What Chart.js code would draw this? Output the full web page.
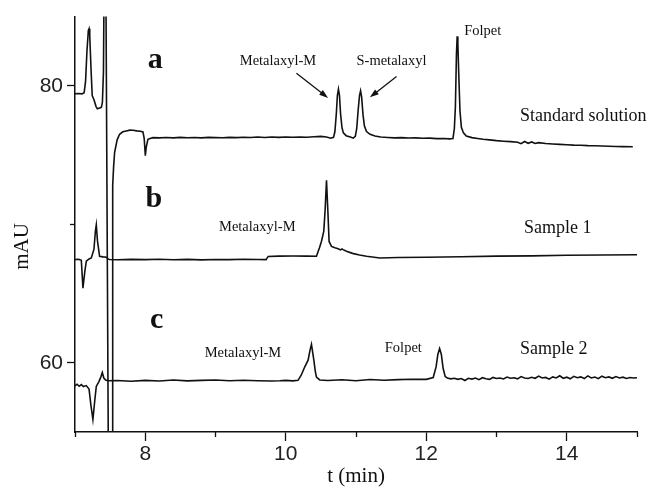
<!DOCTYPE html>
<html>
<head>
<meta charset="utf-8">
<script src="https://cdn.jsdelivr.net/npm/chart.js"></script>
<style>
  body { margin: 0; background: #fff; }
  #wrap { width: 650px; height: 489px; }
</style>
</head>
<body>
<div id="wrap"><canvas id="myChart" width="650" height="489"></canvas></div>
<script>
// trace a - standard solution (t in min, signal in mAU)
var timeA = [
  7.00, 7.05, 7.10, 7.13, 7.15, 7.17, 7.19, 7.20, 7.21, 7.23,
  7.245, 7.27, 7.30, 7.318, 7.35, 7.375, 7.39, 7.405, 7.415, 7.435,
  7.44, 7.475, 7.52, 7.529, 7.533, 7.54, 7.55, 7.564, 7.60, 7.635,
  7.68, 7.73, 7.78, 7.825, 7.88, 7.93, 7.967, 7.985, 8.001, 8.015,
  8.038, 8.07, 8.11, 8.2, 8.3, 8.4, 8.5, 8.6, 8.7, 8.8,
  8.9, 9.0, 9.1, 9.2, 9.3, 9.4, 9.5, 9.6, 9.7, 9.8,
  9.9, 10.0, 10.1, 10.2, 10.3, 10.4, 10.5, 10.58, 10.64, 10.68,
  10.70, 10.72, 10.735, 10.75, 10.765, 10.78, 10.80, 10.82, 10.86, 10.92,
  10.96, 10.99, 11.01, 11.03, 11.05, 11.065, 11.08, 11.10, 11.12, 11.15,
  11.2, 11.27, 11.35, 11.45, 11.55, 11.65, 11.75, 11.85, 11.95, 12.05,
  12.15, 12.25, 12.33, 12.38, 12.40, 12.415, 12.43, 12.44, 12.45, 12.465,
  12.48, 12.50, 12.53, 12.57, 12.65, 12.73, 12.81, 12.9, 13.0, 13.1,
  13.2, 13.3, 13.35, 13.4, 13.45, 13.5, 13.55, 13.6, 13.7, 13.8,
  13.9, 14.0, 14.1, 14.2, 14.3, 14.4, 14.5, 14.6, 14.7, 14.8, 14.94
];
var valueA = [
  79.43, 79.45, 79.42, 79.5, 80.3, 82.5, 84.0, 84.12, 83.6, 81.0,
  79.3, 79.0, 78.5, 78.34, 78.4, 78.45, 78.8, 81.0, 88, 88,
  87, 53, 53, 53, 71.0, 72.8, 74.2, 75.2, 76.1, 76.5,
  76.68, 76.74, 76.8, 76.79, 76.75, 76.72, 76.67, 76.2, 74.96, 75.6,
  76.14, 76.2, 76.26, 76.24, 76.27, 76.24, 76.28, 76.25, 76.27, 76.24,
  76.28, 76.26, 76.25, 76.28, 76.26, 76.29, 76.27, 76.3, 76.27, 76.3,
  76.28, 76.31, 76.29, 76.31, 76.29, 76.32, 76.35, 76.3, 76.22, 76.28,
  76.7, 78.0, 79.3, 79.76, 79.3, 78.0, 77.0, 76.6, 76.4, 76.3,
  76.22, 76.35, 76.9, 78.2, 79.3, 79.64, 79.2, 77.9, 77.1, 76.7,
  76.5, 76.38, 76.3, 76.27, 76.24, 76.26, 76.23, 76.24, 76.21, 76.22,
  76.19, 76.2, 76.17, 76.2, 76.9, 78.5, 82.3, 83.57, 83.0, 80.5,
  78.2, 77.0, 76.6, 76.38, 76.26, 76.2, 76.14, 76.1, 76.04, 76.0,
  75.97, 75.93, 75.82, 75.98, 75.85, 75.95, 75.84, 75.9, 75.84, 75.8,
  75.77, 75.75, 75.72, 75.71, 75.68, 75.67, 75.65, 75.64, 75.62, 75.61, 75.6
];

// trace b - sample 1
var timeB = [
  7.00, 7.05, 7.09, 7.113, 7.14, 7.161, 7.20, 7.232, 7.27, 7.29,
  7.303, 7.32, 7.35, 7.40, 7.446, 7.47, 7.49, 7.6, 7.8, 8.0,
  8.2, 8.4, 8.6, 8.8, 9.0, 9.2, 9.4, 9.6, 9.72, 9.75,
  9.9, 10.1, 10.3, 10.437, 10.48, 10.508, 10.541, 10.56, 10.58, 10.60,
  10.617, 10.651, 10.70, 10.745, 10.78, 10.80, 10.816, 10.865, 10.95, 11.05,
  11.15, 11.34, 11.6, 12.0, 12.5, 13.0, 13.5, 14.0, 14.5, 15.0
];
var valueB = [
  67.46, 67.47, 67.4, 65.39, 66.6, 67.34, 67.5, 67.57, 68.2, 69.5,
  69.96, 68.8, 67.69, 67.65, 67.62, 67.5, 67.46, 67.44, 67.47, 67.45,
  67.48, 67.44, 67.47, 67.43, 67.46, 67.45, 67.48, 67.46, 67.45, 67.68,
  67.7, 67.71, 67.7, 67.69, 68.3, 68.76, 69.48, 71.0, 73.17, 70.9,
  68.76, 68.4, 68.3, 68.24, 68.15, 68.22, 68.17, 68.05, 67.9, 67.78,
  67.69, 67.57, 67.6, 67.62, 67.66, 67.7, 67.72, 67.76, 67.78, 67.8
];

// trace c - sample 2
var timeC = [
  7.00, 7.03, 7.06, 7.09, 7.12, 7.16, 7.20, 7.225, 7.255, 7.28,
  7.303, 7.34, 7.37, 7.389, 7.41, 7.436, 7.47, 7.6, 7.8, 8.0,
  8.2, 8.4, 8.6, 8.8, 9.0, 9.2, 9.4, 9.6, 9.8, 9.914,
  10.0, 10.1, 10.175, 10.22, 10.271, 10.318, 10.345, 10.366, 10.385, 10.40,
  10.42, 10.437, 10.484, 10.6, 10.8, 11.0, 11.2, 11.4, 11.6, 11.8,
  12.0, 12.099, 12.14, 12.165, 12.19, 12.215, 12.24, 12.27, 12.3, 12.35,
  12.4, 12.45, 12.5, 12.55, 12.6, 12.65, 12.7, 12.75, 12.8, 12.85,
  12.9, 12.95, 13.0, 13.05, 13.1, 13.15, 13.2, 13.25, 13.3, 13.35,
  13.4, 13.45, 13.5, 13.55, 13.6, 13.65, 13.7, 13.75, 13.8, 13.85,
  13.9, 13.95, 14.0, 14.05, 14.1, 14.15, 14.2, 14.25, 14.3, 14.35,
  14.4, 14.45, 14.5, 14.55, 14.6, 14.65, 14.7, 14.75, 14.8, 14.85,
  14.9, 14.95, 15.0
];
var valueC = [
  58.33, 58.45, 58.3, 58.42, 58.28, 58.35, 58.1, 57.0, 55.9, 57.2,
  58.29, 58.64, 59.0, 59.29, 58.9, 58.76, 58.7, 58.72, 58.67, 58.73,
  58.68, 58.75, 58.69, 58.73, 58.76, 58.7, 58.74, 58.7, 58.68, 58.7,
  58.73, 58.69, 58.73, 59.1, 59.71, 60.19, 60.9, 61.33, 60.7, 60.19,
  59.4, 58.96, 58.76, 58.72, 58.77, 58.7, 58.79, 58.74, 58.78, 58.81,
  58.8, 58.93, 59.7, 60.6, 61.03, 60.6, 59.6, 59.0, 58.9, 58.84,
  58.88, 58.8, 58.86, 58.72, 58.88, 58.82, 58.9, 58.78, 58.92, 58.85,
  58.8, 58.94, 58.86, 58.9, 58.83, 58.97, 58.88, 58.92, 58.84, 59.0,
  58.9, 58.86, 58.95, 58.88, 59.04, 58.9, 58.94, 58.82, 58.98, 58.9,
  59.06, 58.88, 58.96, 58.84, 59.02, 58.92, 58.98, 58.86, 59.05, 58.9,
  58.97, 58.85, 59.03, 58.92, 58.98, 58.88, 59.0, 58.9, 58.96, 58.87,
  58.94, 58.9, 58.92
];

var xMajorTicks = [8, 10, 12, 14];
var xMinorTicks = [7, 9, 11, 13, 15];
var yMajorTicks = [60, 80];
var yMinorTicks = [70];

// text put on the plot, placed in (min, mAU)
var notes = [
  { text: "a", t: 8.141, v: 81.26, font: "bold 30px 'Liberation Serif'", align: "center" },
  { text: "b", t: 8.124, v: 71.26, font: "bold 30px 'Liberation Serif'", align: "center" },
  { text: "c", t: 8.162, v: 62.48, font: "bold 30px 'Liberation Serif'", align: "center" },
  { text: "Metalaxyl-M", t: 9.345, v: 81.48, font: "14.5px 'Liberation Serif'", align: "left" },
  { text: "S-metalaxyl", t: 11.007, v: 81.48, font: "14.5px 'Liberation Serif'", align: "left" },
  { text: "Folpet", t: 12.54, v: 83.69, font: "14.5px 'Liberation Serif'", align: "left" },
  { text: "Standard solution", t: 13.333, v: 77.48, font: "18px 'Liberation Serif'", align: "left" },
  { text: "Metalaxyl-M", t: 9.05, v: 69.55, font: "14.5px 'Liberation Serif'", align: "left" },
  { text: "Sample 1", t: 13.39, v: 69.34, font: "18px 'Liberation Serif'", align: "left" },
  { text: "Metalaxyl-M", t: 8.846, v: 60.41, font: "14.5px 'Liberation Serif'", align: "left" },
  { text: "Folpet", t: 11.41, v: 60.76, font: "14.5px 'Liberation Serif'", align: "left" },
  { text: "Sample 2", t: 13.333, v: 60.62, font: "18px 'Liberation Serif'", align: "left" }
];
var arrows = [
  { from: [10.152, 80.91], to: [10.603, 79.12] },
  { from: [11.577, 80.67], to: [11.197, 79.17] }
];

function toPoints(ts, vs) {
  return ts.map(function (t, i) { return { x: t, y: vs[i] }; });
}

function trace(ts, vs) {
  return {
    data: toPoints(ts, vs),
    showLine: true,
    borderColor: "#111",
    borderWidth: 1.6,
    pointRadius: 0,
    tension: 0,
    fill: false
  };
}

var notePlugin = {
  id: "notes",
  afterDatasetsDraw: function (chart) {
    var ctx = chart.ctx;
    var xs = chart.scales.x;
    var ys = chart.scales.y;
    ctx.save();
    ctx.fillStyle = "#111";
    ctx.strokeStyle = "#111";
    ctx.textBaseline = "alphabetic";
    notes.forEach(function (n) {
      ctx.font = n.font;
      ctx.textAlign = n.align;
      ctx.fillText(n.text, xs.getPixelForValue(n.t), ys.getPixelForValue(n.v));
    });
    arrows.forEach(function (a) {
      var x1 = xs.getPixelForValue(a.from[0]), y1 = ys.getPixelForValue(a.from[1]);
      var x2 = xs.getPixelForValue(a.to[0]), y2 = ys.getPixelForValue(a.to[1]);
      var ang = Math.atan2(y2 - y1, x2 - x1);
      ctx.lineWidth = 1.3;
      ctx.beginPath();
      ctx.moveTo(x1, y1);
      ctx.lineTo(x2 - 6 * Math.cos(ang), y2 - 6 * Math.sin(ang));
      ctx.stroke();
      ctx.beginPath();
      ctx.moveTo(x2, y2);
      ctx.lineTo(x2 - 9 * Math.cos(ang) + 3 * Math.sin(ang), y2 - 9 * Math.sin(ang) - 3 * Math.cos(ang));
      ctx.lineTo(x2 - 9 * Math.cos(ang) - 3 * Math.sin(ang), y2 - 9 * Math.sin(ang) + 3 * Math.cos(ang));
      ctx.closePath();
      ctx.fill();
    });
    // y axis title
    ctx.translate(chart.chartArea.left - 53, ys.getPixelForValue(68.4));
    ctx.rotate(-Math.PI / 2);
    ctx.font = "21px 'Liberation Serif'";
    ctx.textAlign = "center";
    ctx.textBaseline = "middle";
    ctx.fillText("mAU", 0, 0);
    ctx.restore();
  }
};

var tickFont = { family: "'Liberation Sans', Arial, sans-serif", size: 21 };

new Chart("myChart", {
  type: "scatter",
  data: {
    datasets: [trace(timeA, valueA), trace(timeB, valueB), trace(timeC, valueC)]
  },
  options: {
    responsive: false,
    animation: false,
    devicePixelRatio: 1,
    layout: { padding: { top: 13, right: 13, left: 0, bottom: 0 } },
    plugins: { legend: { display: false }, tooltip: { enabled: false } },
    scales: {
      x: {
        type: "linear", min: 7, max: 15, position: "bottom", weight: 1,
        afterBuildTicks: function (s) { s.ticks = xMajorTicks.map(function (v) { return { value: v }; }); },
        afterFit: function (s) { s.height = 57; },
        grid: { drawOnChartArea: false, tickLength: 9, tickColor: "#111", tickWidth: 1.3 },
        border: { color: "#111", width: 1.5 },
        ticks: { font: tickFont, color: "#222", padding: 1, maxRotation: 0, autoSkip: false },
        title: { display: true, text: "t (min)", color: "#111", padding: { top: 0, bottom: 0 },
                 font: { family: "'Liberation Serif', serif", size: 21 } }
      },
      xMinor: {
        type: "linear", min: 7, max: 15, position: "bottom", weight: 0,
        afterBuildTicks: function (s) { s.ticks = xMinorTicks.map(function (v) { return { value: v }; }); },
        afterFit: function (s) { s.height = 0; },
        grid: { drawOnChartArea: false, tickLength: 5, tickColor: "#111", tickWidth: 1.3 },
        border: { display: false },
        ticks: { display: false }
      },
      y: {
        type: "linear", min: 55, max: 85, position: "left", weight: 1,
        afterBuildTicks: function (s) { s.ticks = yMajorTicks.map(function (v) { return { value: v }; }); },
        afterFit: function (s) { s.width = 75; },
        grid: { drawOnChartArea: false, tickLength: 8, tickColor: "#111", tickWidth: 1.3 },
        border: { color: "#111", width: 1.5 },
        ticks: { font: tickFont, color: "#222", padding: 4 }
      },
      yMinor: {
        type: "linear", min: 55, max: 85, position: "left", weight: 0,
        afterBuildTicks: function (s) { s.ticks = yMinorTicks.map(function (v) { return { value: v }; }); },
        afterFit: function (s) { s.width = 0; },
        grid: { drawOnChartArea: false, tickLength: 5, tickColor: "#111", tickWidth: 1.3 },
        border: { display: false },
        ticks: { display: false }
      }
    }
  },
  plugins: [notePlugin]
});
</script>
</body>
</html>
